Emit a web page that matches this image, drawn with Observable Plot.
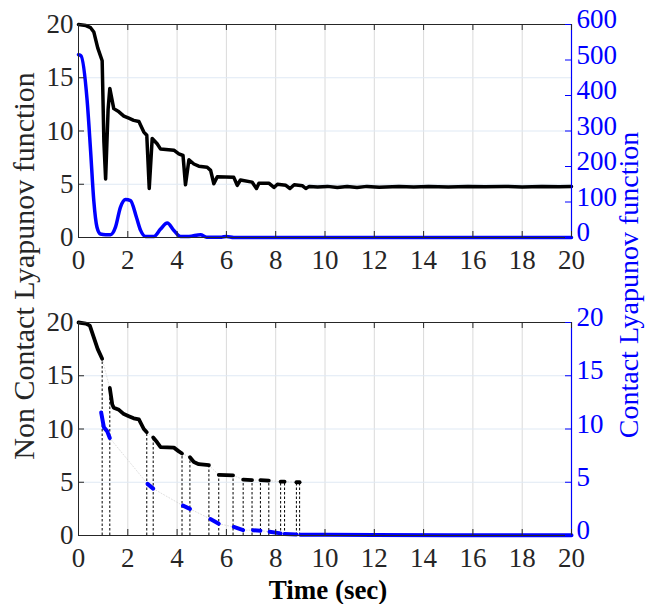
<!DOCTYPE html>
<html><head><meta charset="utf-8">
<script src="https://cdn.jsdelivr.net/npm/d3@7"></script>
<script src="https://cdn.jsdelivr.net/npm/@observablehq/plot@0.6"></script>
<style>
body{margin:0;background:#fff;}
#wrap{position:relative;width:645px;height:604px;font-family:"Liberation Serif","Times New Roman",serif;overflow:hidden;}
.panel{position:absolute;left:0;}
.ylab{position:absolute;white-space:nowrap;font-size:30px;transform:translate(-50%,-50%) rotate(-90deg);line-height:1;}
.xlab{position:absolute;white-space:nowrap;font-size:27px;font-weight:bold;transform:translate(-50%,-50%);line-height:1;}
</style></head><body><div id="wrap"></div>
<script>
// ---- tick labels ----
const timeTicks = [0,2,4,6,8,10,12,14,16,18,20];
const leftTicks = [0,5,10,15,20];
const topRightTicks = [0,100,200,300,400,500,600];
const bottomRightTicks = [0,5,10,15,20];

// ---- top panel: Non Contact Lyapunov function (left axis) ----
const topNcTime  = [0,0.3,0.49,0.62,0.78,0.96,1.03,1.1,1.2,1.27,1.43,1.64,1.84,2.04,2.24,2.45,2.65,2.77,2.87,2.99,3.19,3.33,3.87,4.07,4.24,4.34,4.48,4.68,4.88,5.22,5.36,5.49,5.63,6.3,6.44,6.57,7.04,7.22,7.32,7.72,7.93,8.07,8.41,8.58,8.75,9.09,9.22,9.36,9.7,10.1,10.5,10.9,11.3,11.7,12.2,13,13.6,14.2,15,15.8,16.5,17.3,18,18.8,19.5,20];
const topNcValue = [20,19.9,19.7,19.3,17.8,16.6,9,5.5,12,14.0,12.1,11.8,11.4,11.2,11.0,10.9,9.9,9.6,4.6,9.3,8.8,8.3,8.2,7.85,7.7,4.95,7.3,6.9,6.7,6.6,6.3,5.05,5.7,5.65,4.9,5.4,5.2,4.6,5.1,5.1,4.7,5.0,4.9,4.6,4.95,4.85,4.6,4.8,4.75,4.8,4.7,4.78,4.7,4.8,4.72,4.8,4.74,4.8,4.75,4.8,4.76,4.8,4.75,4.8,4.77,4.78];

// ---- top panel: Contact Lyapunov function (right axis, 0-600) ----
const topCTime  = [0,0.1,0.35,0.49,0.62,0.75,0.89,1.1,1.3,1.5,1.7,1.91,2.11,2.35,2.52,2.72,3.06,3.33,3.6,3.87,4.14,4.48,4.95,5.2,5.8,6.0,6.3,8,10,12,14,16,18,20];
const topCValue = [515,512,386,245,104,29,10,8,8,29,85,107,104,57,20,3,3,24,41,20,3,3,8,1,1,3,0,0,0,0,0,0,0,0];

// ---- bottom panel: Non Contact segments (left axis) ----
const botNcSeg   = [0,0,0,0,0,0, 1,1,1,1,1,1,1,1,1,1, 2,2,2,2,2,2, 3,3,3,3, 4,4, 5,5, 6,6, 7,7, 8,8];
const botNcTime  = [0,0.3,0.46,0.62,0.78,0.96, 1.27,1.37,1.43,1.64,1.84,2.04,2.24,2.45,2.65,2.77, 3.03,3.19,3.33,3.87,4.07,4.2, 4.52,4.68,4.88,5.29, 5.69,6.27, 6.68,7.04, 7.38,7.72, 8.2,8.36, 8.84,8.97];
const botNcValue = [20,19.9,19.7,18.6,17.5,16.6, 13.85,12.3,12.0,11.8,11.4,11.2,11.0,10.9,10.0,9.7, 9.2,8.75,8.3,8.25,7.9,7.7, 7.35,6.9,6.7,6.6, 5.7,5.65, 5.25,5.2, 5.2,5.15, 5.05,5.05, 5.0,5.0];

// ---- bottom panel: Contact segments (right axis, 0-20) ----
const botCSeg   = [0,0,0,0, 1,1, 2,2, 3,3, 4,4, 5,5, 6,6, 7,7, 8,8,8,8,8,8];
const botCTime  = [0.92,1.03,1.16,1.27, 2.8,3.03, 4.24,4.52, 5.35,5.69, 6.3,6.68, 7.08,7.38, 7.75,8.2, 8.36,8.84, 9.0,10,12,15,18,20];
const botCValue = [11.55,10.15,9.8,9.15, 4.85,4.4, 2.8,2.5, 1.55,1.1, 0.8,0.5, 0.5,0.45, 0.35,0.2, 0.15,0.1, 0.08,0.06,0.04,0.03,0.02,0.02];

const BLUE = "#0000ff";
const FONT = "Liberation Serif, Times New Roman, serif";
const W = 645, ML = 78, MR = 74;
const TICKFONT = 27;

function rows(t, v, s) { return t.map((d, i) => ({t: d, v: v[i], s: s ? s[i] : 0})); }

function gridMarks() {
  return [
    Plot.ruleX(timeTicks.slice(1, -1), {stroke: "#dadada", strokeWidth: 1}),
    Plot.ruleY([5, 10, 15], {stroke: "#dfe9f4", strokeWidth: 1}),
  ];
}
function axisMarks(plotW, plotH, rightTicks, rightScale) {
  return [
    Plot.ruleY([20], {stroke: "#262626", strokeWidth: 1}),
    Plot.ruleY([0], {stroke: "#262626", strokeWidth: 1}),
    Plot.ruleX([0], {stroke: "#262626", strokeWidth: 1}),
    Plot.ruleX([20], {stroke: BLUE, strokeWidth: 1.2}),
    Plot.tickX(timeTicks, {x: d => d, insetTop: plotH - 6, stroke: "#262626"}),
    Plot.tickX(timeTicks, {x: d => d, insetBottom: plotH - 6, stroke: "#262626"}),
    Plot.tickY(leftTicks, {y: d => d, insetRight: plotW - 6, stroke: "#262626"}),
    Plot.tickY(rightTicks, {y: d => d / rightScale, insetLeft: plotW - 6, stroke: BLUE}),
    Plot.axisX({ticks: timeTicks, tickSize: 0, tickPadding: 12, label: null, fontSize: TICKFONT, fill: "#262626"}),
    Plot.axisY({ticks: leftTicks, tickSize: 0, tickPadding: 5, label: null, fontSize: TICKFONT, fill: "#262626"}),
    Plot.text(rightTicks, {x: 20, y: d => d / rightScale, text: d => String(d), dx: 5, dy: -5, textAnchor: "start", fill: BLUE, fontSize: TICKFONT})
  ];
}

const wrap = document.getElementById("wrap");

// top panel
{
  const H = 280, MT = 24, MB = 43;
  const plotW = W - ML - MR, plotH = H - MT - MB;
  const nc = rows(topNcTime, topNcValue);
  const c = rows(topCTime, topCValue).map(d => ({...d, v: d.v / 30}));
  const svg = Plot.plot({
    width: W, height: H, marginTop: MT, marginBottom: MB, marginLeft: ML, marginRight: MR,
    style: {fontFamily: FONT, background: "transparent", overflow: "visible"},
    x: {domain: [0, 20]}, y: {domain: [0, 20]},
    marks: [
      ...gridMarks(),
      Plot.line(c, {x: "t", y: "v", stroke: BLUE, strokeWidth: 3.5, curve: "monotone-x"}),
      Plot.line(nc, {x: "t", y: "v", stroke: "black", strokeWidth: 3.5, strokeLinejoin: "round"}),
      ...axisMarks(plotW, plotH, topRightTicks, 30)
    ]
  });
  svg.classList.add("panel"); svg.style.top = "0px";
  wrap.appendChild(svg);
}

// bottom panel
{
  const H = 324, MT = 42, MB = 69;
  const plotW = W - ML - MR, plotH = H - MT - MB;
  const nc = rows(botNcTime, botNcValue, botNcSeg);
  const c = rows(botCTime, botCValue, botCSeg);
  const ends = [];
  const segs = d3.groups(nc, d => d.s);
  segs.forEach(([s, pts], i) => {
    if (i > 0) ends.push(pts[0]);
    ends.push(pts[pts.length - 1]);
  });
  const link = (arr) => {
    const g = d3.groups(arr, d => d.s); const out = [];
    for (let i = 0; i < g.length - 1; i++) {
      const a = g[i][1][g[i][1].length - 1], b = g[i + 1][1][0];
      out.push({t: a.t, v: a.v, k: i}, {t: b.t, v: b.v, k: i});
    }
    return out;
  };
  const svg = Plot.plot({
    width: W, height: H, marginTop: MT, marginBottom: MB, marginLeft: ML, marginRight: MR,
    style: {fontFamily: FONT, background: "transparent", overflow: "visible"},
    x: {domain: [0, 20]}, y: {domain: [0, 20]},
    marks: [
      ...gridMarks(),
      Plot.line(link(nc), {x: "t", y: "v", z: "k", stroke: "#c8c8c8", strokeWidth: 0.6, strokeDasharray: "1,2"}),
      Plot.line(link(c), {x: "t", y: "v", z: "k", stroke: "#c8c8c8", strokeWidth: 0.6, strokeDasharray: "1,2"}),
      Plot.ruleX(ends, {x: "t", y1: 0, y2: "v", stroke: "black", strokeWidth: 1, strokeDasharray: "2.5,2"}),
      Plot.line(nc, {x: "t", y: "v", z: "s", stroke: "black", strokeWidth: 3.8, strokeLinejoin: "round"}),
      Plot.line(c, {x: "t", y: "v", z: "s", stroke: BLUE, strokeWidth: 4}),
      ...axisMarks(plotW, plotH, bottomRightTicks, 1)
    ]
  });
  svg.classList.add("panel"); svg.style.top = "280px";
  wrap.appendChild(svg);
}

// shared labels
const addDiv = (cls, text, x, y, color, size) => {
  const d = document.createElement("div");
  d.className = cls; d.textContent = text;
  d.style.left = x + "px"; d.style.top = y + "px";
  if (color) d.style.color = color;
  if (size) d.style.fontSize = size + "px";
  wrap.appendChild(d);
};
addDiv("ylab", "Non Contact Lyapunov function", 24, 266, "#262626");
addDiv("ylab", "Contact Lyapunov function", 629, 285, BLUE, 28);
addDiv("xlab", "Time (sec)", 328, 590, "#000");
</script></body></html>
